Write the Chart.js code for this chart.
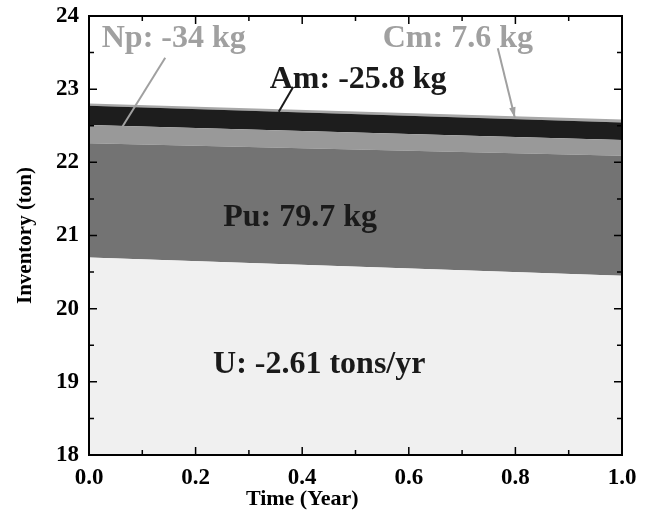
<!DOCTYPE html>
<html>
<head>
<meta charset="utf-8">
<script src="https://cdn.jsdelivr.net/npm/chart.js@4.4.1/dist/chart.umd.min.js"></script>
<style>
    html, body { margin: 0; padding: 0; background: #ffffff; }
    #wrap { width: 648px; height: 514px; }
</style>
</head>
<body>
<div id="wrap"><canvas id="inventoryChart" width="648" height="514"></canvas></div>
<script>
// Time points (year)
const years = [0.0, 1.0];

// Inventory of each element, in tons (stacked bands)
const uranium = [20.70, 20.45];
const plutonium = [1.560, 1.640];
const neptunium = [0.250, 0.216];
const americium = [0.265, 0.240];
const curium = [0.030, 0.038];

const seriesNames = ['U', 'Pu', 'Np', 'Am', 'Cm'];
const seriesColors = ['#f0f0f0', '#737373', '#999999', '#1d1d1d', '#a8a8a8'];

// Tick labels
const xTicks = [0.0, 0.2, 0.4, 0.6, 0.8, 1.0];
const yTicks = [18, 19, 20, 21, 22, 23, 24];

// Text notes: [text, x, y (baseline), colour]
const notes = [
    ['Np: -34 kg', 0.159, 23.58, '#a0a0a0'],
    ['Cm: 7.6 kg', 0.692, 23.58, '#a0a0a0'],
    ['Am: -25.8 kg', 0.505, 23.02, '#1a1a1a'],
    ['Pu: 79.7 kg', 0.396, 21.13, '#1a1a1a'],
    ['U: -2.61 tons/yr', 0.432, 19.12, '#1a1a1a']
];

// Leader lines: [x1, y1, x2, y2, colour, arrow]
const leaders = [
    [0.143, 23.43, 0.062, 22.48, '#a0a0a0', false],
    [0.383, 23.03, 0.356, 22.69, '#1a1a1a', false],
    [0.767, 23.56, 0.799, 22.61, '#a0a0a0', true]
];

const FONT = '"Liberation Serif", "Times New Roman", serif';

const series = [uranium, plutonium, neptunium, americium, curium];
const datasets = series.map((vals, i) => ({
    label: seriesNames[i],
    data: years.map((x, j) => ({ x: x, y: vals[j] })),
    backgroundColor: seriesColors[i],
    borderWidth: 0,
    pointRadius: 0,
    tension: 0,
    fill: i === 0 ? 'start' : '-1'
}));

// frame, inward ticks, x title and the text notes
const framePlugin = {
    id: 'frame',
    afterDatasetsDraw(chart) {
        const ctx = chart.ctx;
        const a = chart.chartArea;
        const xs = chart.scales.x;
        const ys = chart.scales.y;
        ctx.save();

        // leader lines
        leaders.forEach(l => {
            const x1 = xs.getPixelForValue(l[0]), y1 = ys.getPixelForValue(l[1]);
            const x2 = xs.getPixelForValue(l[2]), y2 = ys.getPixelForValue(l[3]);
            ctx.strokeStyle = l[4];
            ctx.fillStyle = l[4];
            ctx.lineWidth = 2;
            ctx.beginPath();
            ctx.moveTo(x1, y1);
            ctx.lineTo(x2, y2);
            ctx.stroke();
            if (l[5]) {
                const ang = Math.atan2(y2 - y1, x2 - x1);
                const len = 11, w = 0.3;
                ctx.beginPath();
                ctx.moveTo(x2, y2);
                ctx.lineTo(x2 - len * Math.cos(ang - w), y2 - len * Math.sin(ang - w));
                ctx.lineTo(x2 - len * Math.cos(ang + w), y2 - len * Math.sin(ang + w));
                ctx.closePath();
                ctx.fill();
            }
        });

        // notes
        ctx.font = 'bold 32px ' + FONT;
        ctx.textAlign = 'center';
        ctx.textBaseline = 'alphabetic';
        notes.forEach(n => {
            ctx.fillStyle = n[3];
            ctx.fillText(n[0], xs.getPixelForValue(n[1]), ys.getPixelForValue(n[2]));
        });

        // x axis title, sits left of the plot centre
        ctx.fillStyle = '#000000';
        ctx.font = 'bold 22px ' + FONT;
        ctx.fillText('Time (Year)', xs.getPixelForValue(0.4), 505);

        // ticks pointing inward on all four sides
        ctx.strokeStyle = '#000000';
        ctx.lineWidth = 1.5;
        ctx.beginPath();
        for (let i = 0; i <= 10; i++) {
            const v = i / 10;
            const px = xs.getPixelForValue(v);
            const len = i % 2 === 0 ? 8 : 5;
            ctx.moveTo(px, a.bottom); ctx.lineTo(px, a.bottom - len);
            ctx.moveTo(px, a.top); ctx.lineTo(px, a.top + len);
        }
        for (let i = 0; i <= 12; i++) {
            const v = 18 + i / 2;
            const py = ys.getPixelForValue(v);
            const len = i % 2 === 0 ? 8 : 5;
            ctx.moveTo(a.left, py); ctx.lineTo(a.left + len, py);
            ctx.moveTo(a.right, py); ctx.lineTo(a.right - len, py);
        }
        ctx.stroke();

        ctx.lineWidth = 2;
        ctx.strokeRect(a.left, a.top, a.right - a.left, a.bottom - a.top);
        ctx.restore();
    }
};

new Chart(document.getElementById('inventoryChart'), {
    type: 'line',
    data: { datasets: datasets },
    options: {
        responsive: false,
        animation: false,
        devicePixelRatio: 1,
        layout: { padding: { top: 16, right: 26, left: 0, bottom: 0 } },
        plugins: {
            legend: { display: false },
            tooltip: { enabled: false }
        },
        scales: {
            x: {
                type: 'linear',
                min: 0,
                max: 1,
                afterBuildTicks: s => { s.ticks = xTicks.map(v => ({ value: v })); },
                afterFit: s => { s.height = 59; },
                grid: { display: false },
                border: { display: false },
                ticks: {
                    color: '#000000',
                    padding: 1,
                    maxRotation: 0,
                    font: { family: FONT, size: 23, weight: 'bold' },
                    callback: v => v.toFixed(1)
                }
            },
            y: {
                type: 'linear',
                stacked: true,
                min: 18,
                max: 24,
                afterBuildTicks: s => { s.ticks = yTicks.map(v => ({ value: v })); },
                afterFit: s => { s.width = 89; },
                grid: { display: false },
                border: { display: false },
                ticks: {
                    color: '#000000',
                    padding: 2,
                    font: { family: FONT, size: 23, weight: 'bold' }
                },
                title: {
                    display: true,
                    text: 'Inventory (ton)',
                    color: '#000000',
                    padding: { top: 13, bottom: 0 },
                    font: { family: FONT, size: 21, weight: 'bold' }
                }
            }
        }
    },
    plugins: [framePlugin]
});
</script>
</body>
</html>
